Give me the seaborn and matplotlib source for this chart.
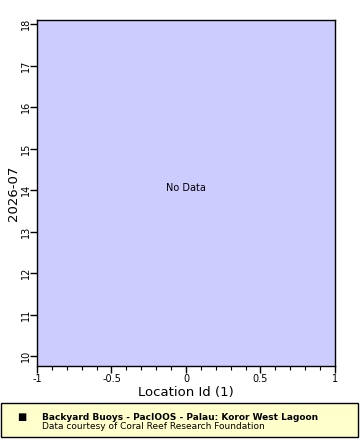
import matplotlib
matplotlib.use("Agg")
import matplotlib.pyplot as plt
import seaborn as sns
import pandas as pd
from matplotlib.ticker import MultipleLocator
from matplotlib.patches import Rectangle

sns.set_theme(style="ticks")
plt.rcParams['font.family'] = ['DejaVu Sans']

# Data (the reference has no data points)
location_ids = []
values = []
x_ticks = [-1, -0.5, 0, 0.5, 1]
x_tick_labels = ["-1", "-0.5", "0", "0.5", "1"]
y_ticks = [10, 11, 12, 13, 14, 15, 16, 17, 18]
legend_title = "Backyard Buoys - PacIOOS - Palau: Koror West Lagoon"
legend_sub = "Data courtesy of Coral Reef Research Foundation"

W, H = 360, 440
fig = plt.figure(figsize=(W / 100, H / 100), dpi=100)
ax = fig.add_axes([37 / W, 1 - 366 / H, (335 - 37) / W, (366 - 20) / H])

df = pd.DataFrame({"loc": pd.Series(location_ids, dtype=float),
                   "val": pd.Series(values, dtype=float)})
sns.scatterplot(data=df, x="loc", y="val", ax=ax)

ax.set_facecolor("#CCCCFF")
ax.set_xlim(-1, 1)
ax.set_ylim(9.76, 18.1)
ax.set_xticks(x_ticks)
ax.set_xticklabels(x_tick_labels)
ax.xaxis.set_minor_locator(MultipleLocator(0.1))
ax.set_yticks(y_ticks)
ax.set_yticklabels([str(v) for v in y_ticks], rotation=90, va="center")
for s in ax.spines.values():
    s.set_visible(True)
    s.set_color("black")
    s.set_linewidth(1.0)
ax.tick_params(axis="both", which="major", direction="out", length=5, width=1,
               color="black", labelsize=7, labelcolor="black",
               bottom=True, left=True)
ax.tick_params(axis="x", which="major", pad=1)
ax.tick_params(axis="y", which="major", pad=-0.5)
ax.tick_params(axis="x", which="minor", direction="out", length=3, width=0.8,
               color="black", bottom=True)
ax.set_xlabel("Location Id (1)", fontsize=9.5, color="black", labelpad=1)
ax.set_ylabel("2026-07", fontsize=9.5, color="black", labelpad=0.5)
ax.text(0, 14.05, "No Data", ha="center", va="center", fontsize=7, color="black")

# Legend box
lx0, ly0, lx1, ly1 = 1, 403, 358, 437
fig.patches.append(Rectangle((lx0 / W, 1 - ly1 / H), (lx1 - lx0) / W, (ly1 - ly0) / H,
                             transform=fig.transFigure, facecolor="#FFFFCC",
                             edgecolor="black", linewidth=1.0))
fig.text(22 / W, 1 - 417 / H, "\u25A0", fontsize=7, color="black", ha="center", va="center")
fig.text(42 / W, 1 - 417 / H, legend_title, fontsize=6.5, fontweight="bold",
         color="black", ha="left", va="center")
fig.text(42 / W, 1 - 426.5 / H, legend_sub, fontsize=6.5, color="black",
         ha="left", va="center")

fig.savefig("out.png", dpi=100)
